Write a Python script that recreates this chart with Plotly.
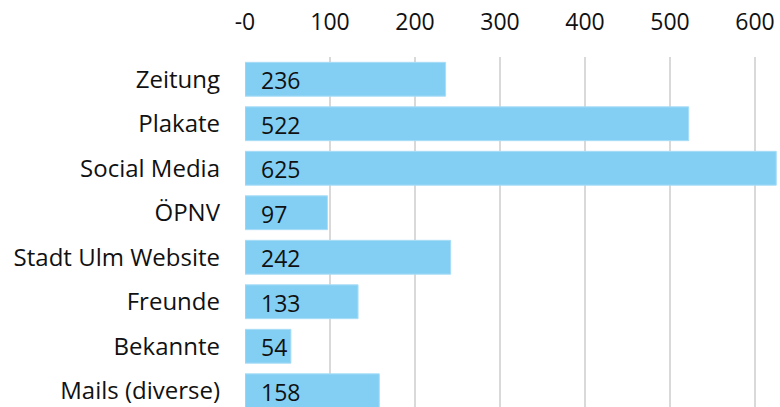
import plotly.graph_objects as go

categories = ["Zeitung", "Plakate", "Social Media", "ÖPNV", "Stadt Ulm Website",
              "Freunde", "Bekannte", "Mails (diverse)"]
values = [236, 522, 625, 97, 242, 133, 54, 158]
tick_vals = [0, 100, 200, 300, 400, 500, 600]
tick_text = ["-0", "100", "200", "300", "400", "500", "600"]

FONT = "Open Sans"
fig = go.Figure()
fig.add_trace(go.Bar(
    y=categories, x=values, orientation="h",
    marker=dict(color="#83CFF4", line=dict(color="#A9DDF7", width=1)),
    width=0.76,
    hoverinfo="skip",
))
for c, v in zip(categories, values):
    fig.add_annotation(x=0, y=c, text=str(v), showarrow=False,
                       xanchor="left", xshift=14, yshift=-1,
                       font=dict(family=FONT, size=23, color="#111111"))

fig.update_layout(
    width=780, height=407,
    margin=dict(l=245, r=0, t=57, b=0),
    paper_bgcolor="white", plot_bgcolor="white",
    showlegend=False,
    font=dict(family=FONT, size=23, color="#111111"),
    xaxis=dict(side="top", range=[0, 629.4], tickvals=tick_vals, ticktext=tick_text,
               showgrid=True, gridcolor="#D9D9D9", gridwidth=1.5,
               zeroline=False, showline=False, ticks="",
               ticklabelstandoff=21,
               tickfont=dict(family=FONT, size=23, color="#111111")),
    yaxis=dict(type="category", categoryorder="array", categoryarray=categories,
               range=[7.365, -0.5], showgrid=False, zeroline=False, showline=False,
               ticks="", ticklabelstandoff=24,
               tickfont=dict(family=FONT, size=24, color="#111111")),
)
fig.write_html("out.html", config={"displayModeBar": False, "staticPlot": True},
               post_script="document.body.style.margin='0';document.body.style.overflow='hidden';")
